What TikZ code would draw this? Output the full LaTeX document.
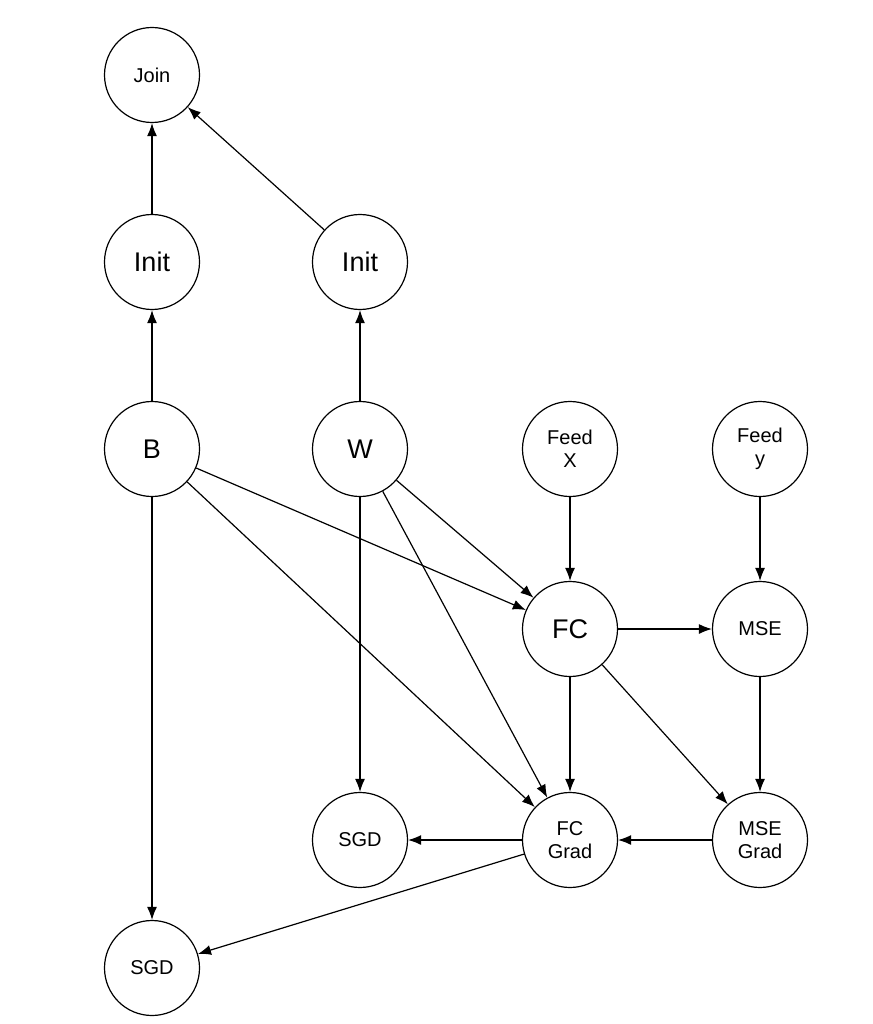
\documentclass[tikz,border=0pt]{standalone}
\usepackage{fontspec}
\setmainfont{Liberation Sans}
\usetikzlibrary{arrows.meta}
\begin{document}
\begin{tikzpicture}[x=1pt,y=-1pt,
  n/.style={circle,draw,line width=1.2pt,minimum size=95pt,inner sep=0pt,align=center,font=\fontsize{20}{23}\selectfont},
  big/.style={font=\fontsize{27}{30}\selectfont},
  e/.style={line width=1.2pt,-{Latex[length=13pt,width=10pt]}}]
\useasboundingbox (0,0) rectangle (872,1024);
\node[n] (join) at (152,75) {Join};
\node[n,big] (i1) at (152,262) {Init};
\node[n,big] (i2) at (360,262) {Init};
\node[n,big] (b) at (152,449) {B};
\node[n,big] (w) at (360,449) {W};
\node[n] (fx) at (570,449) {Feed\\X};
\node[n] (fy) at (760,449) {Feed\\y};
\node[n,big] (fc) at (570,629) {FC};
\node[n] (mse) at (760,629) {MSE};
\node[n] (sgd1) at (360,840) {SGD};
\node[n] (fcg) at (570,840) {FC\\Grad};
\node[n] (mseg) at (760,840) {MSE\\Grad};
\node[n] (sgd2) at (152,968) {SGD};
\draw[e] (b) -- (i1);
\draw[e] (i1) -- (join);
\draw[e] (w) -- (i2);
\draw[e] (i2) -- (join);
\draw[e] (b) -- (fc);
\draw[e] (b) -- (fcg);
\draw[e] (b) -- (sgd2);
\draw[e] (w) -- (fc);
\draw[e] (w) -- (fcg);
\draw[e] (w) -- (sgd1);
\draw[e] (fx) -- (fc);
\draw[e] (fy) -- (mse);
\draw[e] (fc) -- (mse);
\draw[e] (fc) -- (fcg);
\draw[e] (fc) -- (mseg);
\draw[e] (mse) -- (mseg);
\draw[e] (mseg) -- (fcg);
\draw[e] (fcg) -- (sgd1);
\draw[e] (fcg) -- (sgd2);
\end{tikzpicture}
\end{document}
